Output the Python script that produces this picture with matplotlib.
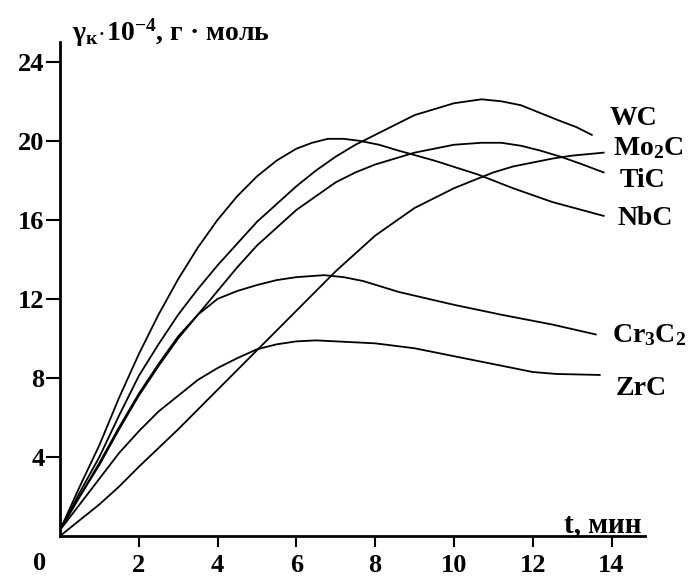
import matplotlib
matplotlib.use('Agg')
import matplotlib.pyplot as plt

plt.rcParams['font.family'] = ['Liberation Serif', 'DejaVu Serif']
plt.rcParams['font.weight'] = 'bold'
plt.rcParams['mathtext.fontset'] = 'custom'
plt.rcParams['mathtext.rm'] = 'Liberation Serif:bold'
plt.rcParams['mathtext.it'] = 'Liberation Serif:bold'
plt.rcParams['mathtext.bf'] = 'Liberation Serif:bold'

# values (t in min, y in 10^-4 g*mol)
t_wc = [0, 0.5, 1, 1.5, 2, 2.5, 3, 3.5, 4, 4.5, 5, 5.5, 6, 6.5, 7, 7.5, 8, 8.5,
        9, 9.5, 10, 10.7, 11.2, 11.7, 12.2, 12.7, 13.1, 13.5]
y_wc = [0.3, 2.2, 4.0, 6.1, 8.1, 9.7, 11.2, 12.5, 13.7, 14.8, 15.9, 16.8, 17.7, 18.5,
        19.2, 19.8, 20.3, 20.8, 21.3, 21.6, 21.9, 22.1, 22.0, 21.8, 21.4, 21.0, 20.7, 20.3]

t_mo2c = [0, 0.5, 1, 1.5, 2, 3, 4, 5, 6, 7, 7.5, 8, 8.5, 9, 9.5, 10, 10.5, 11,
          11.5, 12, 12.5, 13, 13.8]
y_mo2c = [0, 0.8, 1.6, 2.5, 3.5, 5.4, 7.4, 9.4, 11.4, 13.4, 14.3, 15.2, 15.9, 16.6,
          17.1, 17.6, 18.0, 18.4, 18.7, 18.9, 19.1, 19.25, 19.4]

t_tic = [0, 0.5, 1, 1.5, 2, 2.5, 3, 3.5, 4, 4.5, 5, 5.5, 6, 6.5, 7, 7.5, 8, 8.5,
         9, 9.5, 10, 10.7, 11.2, 11.7, 12.2, 12.7, 13.2, 13.8]
y_tic = [0.3, 2.0, 3.6, 5.4, 7.1, 8.6, 10.0, 11.2, 12.4, 13.6, 14.7, 15.6, 16.5, 17.2,
         17.9, 18.4, 18.8, 19.1, 19.4, 19.6, 19.8, 19.9, 19.9, 19.75, 19.5, 19.2, 18.85, 18.4]

t_nbc = [0, 0.5, 1, 1.5, 2, 2.5, 3, 3.5, 4, 4.5, 5, 5.5, 6, 6.4, 6.8, 7.2, 7.6,
         8.1, 8.6, 9.5, 10.6, 11.5, 12.5, 13.8]
y_nbc = [0.3, 2.5, 4.6, 7.0, 9.2, 11.2, 13.0, 14.6, 16.0, 17.2, 18.2, 19.0, 19.6,
         19.9, 20.1, 20.1, 20.0, 19.8, 19.5, 19.0, 18.3, 17.6, 16.9, 16.2]

t_cr3c2 = [0, 0.5, 1, 1.5, 2, 2.5, 3, 3.5, 4, 4.5, 5, 5.5, 6, 6.7, 7.2, 7.7, 8.6,
           10, 11.2, 12.5, 13.6]
y_cr3c2 = [0.3, 2.0, 3.7, 5.5, 7.2, 8.7, 10.1, 11.2, 12.0, 12.4, 12.7, 12.95, 13.1,
           13.2, 13.1, 12.9, 12.35, 11.7, 11.2, 10.7, 10.2]

t_zrc = [0, 0.5, 1, 1.5, 2, 2.5, 3, 3.5, 4, 4.5, 5, 5.5, 6, 6.5, 7, 8, 9, 10, 11,
         12, 12.6, 13.7]
y_zrc = [0.3, 1.6, 2.9, 4.2, 5.3, 6.3, 7.1, 7.9, 8.5, 9.0, 9.45, 9.7, 9.85, 9.9,
         9.85, 9.75, 9.5, 9.1, 8.7, 8.3, 8.2, 8.15]

x_ticks = [2, 4, 6, 8, 10, 12, 14]
y_ticks = [4, 8, 12, 16, 20, 24]

W, H = 697, 576


def fx(x):
    return x / W


def fy(y):
    return 1 - y / H


fig = plt.figure(figsize=(W / 100, H / 100), dpi=100)
ax = fig.add_axes([fx(60), fy(536), (645 - 60) / W, (536 - 42) / H])

for t, y in [(t_wc, y_wc), (t_mo2c, y_mo2c), (t_tic, y_tic),
             (t_nbc, y_nbc), (t_cr3c2, y_cr3c2), (t_zrc, y_zrc)]:
    ax.plot(t, y, color='black', lw=1.3)

ax.set_xlim(0, 14.85)
ax.set_ylim(0, 25)
ax.spines['top'].set_visible(False)
ax.spines['right'].set_visible(False)
ax.spines['left'].set_linewidth(2)
ax.spines['bottom'].set_linewidth(2)
ax.set_xticks(x_ticks)
ax.set_yticks(y_ticks)
ax.tick_params(axis='x', direction='out', length=8, width=1.5, labelsize=19, pad=5)
ax.tick_params(axis='y', direction='out', length=10, width=1.5, labelsize=19, pad=1)

# axis captions
fig.text(fx(72), fy(33), r'$\mathrm{γ_к\!\cdot\!10^{-4}}$, г · моль', fontsize=20,
         ha='left', va='center')
fig.text(fx(641), fy(525), 't, мин', fontsize=21, ha='right', va='center')
fig.text(fx(40), fy(563), '0', fontsize=19, ha='center', va='center')

# curve names
fig.text(fx(610), fy(125), 'WC', fontsize=20, va='baseline')
fig.text(fx(613), fy(155), r'Mo$_2$C', fontsize=20, va='baseline')
fig.text(fx(620), fy(187), 'TiC', fontsize=20, va='baseline')
fig.text(fx(617), fy(225), 'NbC', fontsize=20, va='baseline')
fig.text(fx(612), fy(342), r'Cr$_3$C$_2$', fontsize=20, va='baseline')
fig.text(fx(616), fy(395), 'ZrC', fontsize=20, va='baseline')

fig.savefig('out.png', dpi=100)
